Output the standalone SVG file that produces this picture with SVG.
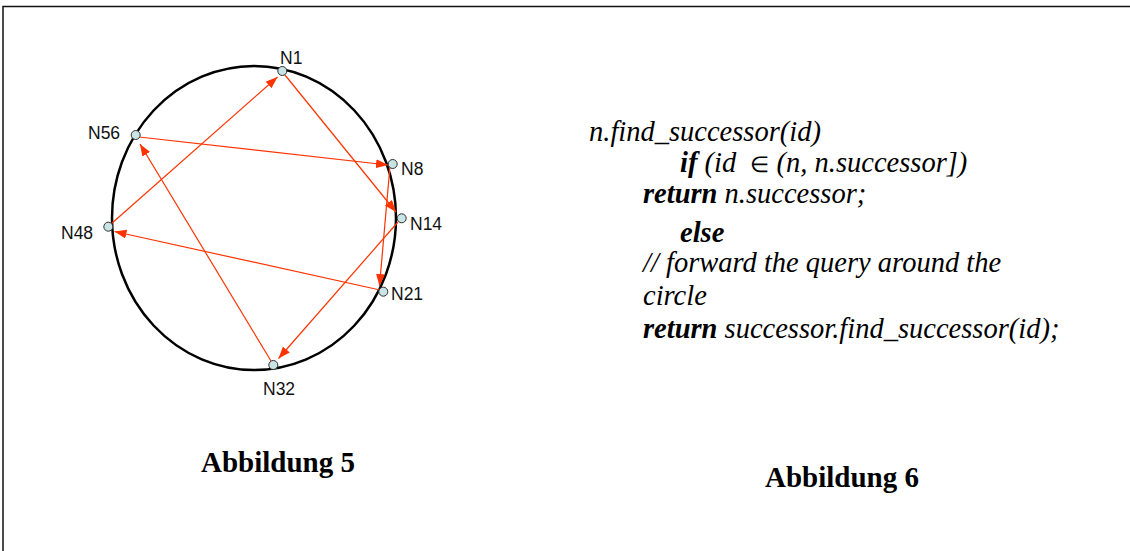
<svg xmlns="http://www.w3.org/2000/svg" width="1130" height="551" viewBox="0 0 1130 551">
<style>
.lbl{font-family:"Liberation Sans",Arial,sans-serif;font-size:17.5px;fill:#111}
.node{fill:#c8e4e4;stroke:#303030;stroke-width:1}
.arr{stroke:#ff3300;stroke-width:1.2;fill:none;marker-end:url(#ah)}
.code{font-family:"Liberation Serif","Times New Roman",serif;font-size:28.5px;font-style:italic;fill:#000}
.kw{font-weight:bold}
.cap{font-family:"Liberation Serif","Times New Roman",serif;font-size:29px;font-weight:bold;fill:#000}
</style>
<defs>
<marker id="ah" markerUnits="userSpaceOnUse" markerWidth="14" markerHeight="10" refX="12" refY="4.5" orient="auto">
<path d="M0,0 L12,4.5 L0,9 Z" fill="#ff3300"/>
</marker>
</defs>
<rect width="1130" height="551" fill="#fff"/>
<path d="M3,551 V6.5 H1130" fill="none" stroke="#111" stroke-width="1.5"/>
<ellipse id="ring" cx="254" cy="218" rx="142" ry="152" fill="none" stroke="#000" stroke-width="2.5"/>
<g id="connectors">
<line class="arr" x1="139" y1="137" x2="388" y2="165"/>
<line class="arr" x1="390" y1="166" x2="379.5" y2="286"/>
<line class="arr" x1="285" y1="75" x2="396" y2="212"/>
<line class="arr" x1="398" y1="222" x2="278.5" y2="358.5"/>
<line class="arr" x1="271" y1="361" x2="140" y2="144"/>
<line class="arr" x1="380" y1="290" x2="114.5" y2="231.5"/>
<line class="arr" x1="111" y1="224" x2="277.5" y2="77"/>
</g>
<g id="N1"><circle class="node" cx="282.3" cy="71" r="4.5"/><text class="lbl" x="280" y="63.5">N1</text></g>
<g id="N8"><circle class="node" cx="392.7" cy="164" r="4.5"/><text class="lbl" x="401" y="175">N8</text></g>
<g id="N14"><circle class="node" cx="401.7" cy="218.3" r="4.5"/><text class="lbl" x="410" y="230">N14</text></g>
<g id="N21"><circle class="node" cx="383.3" cy="291.7" r="4.5"/><text class="lbl" x="391" y="299.5">N21</text></g>
<g id="N32"><circle class="node" cx="273.3" cy="365" r="4.5"/><text class="lbl" x="263" y="395">N32</text></g>
<g id="N48"><circle class="node" cx="108.3" cy="226.7" r="4.5"/><text class="lbl" x="61" y="238.5">N48</text></g>
<g id="N56"><circle class="node" cx="135.7" cy="135" r="4.5"/><text class="lbl" x="88" y="138.5">N56</text></g>
<g id="code">
<text class="code" x="589" y="141">n.find_successor(id)</text>
<text class="code" x="680" y="172" xml:space="preserve"><tspan class="kw">if</tspan> (id  <tspan font-style="normal" font-size="22px">∈</tspan> (n, n.successor])</text>
<text class="code" x="643" y="203"><tspan class="kw">return</tspan> n.successor;</text>
<text class="code kw" x="680" y="242">else</text>
<text class="code" x="643" y="272">// forward the query around the</text>
<text class="code" x="643" y="305">circle</text>
<text class="code" x="643" y="338"><tspan class="kw">return</tspan> successor.find_successor(id);</text>
</g>
<text id="cap5" class="cap" x="201" y="472">Abbildung 5</text>
<text id="cap6" class="cap" x="765" y="487">Abbildung 6</text>
</svg>
